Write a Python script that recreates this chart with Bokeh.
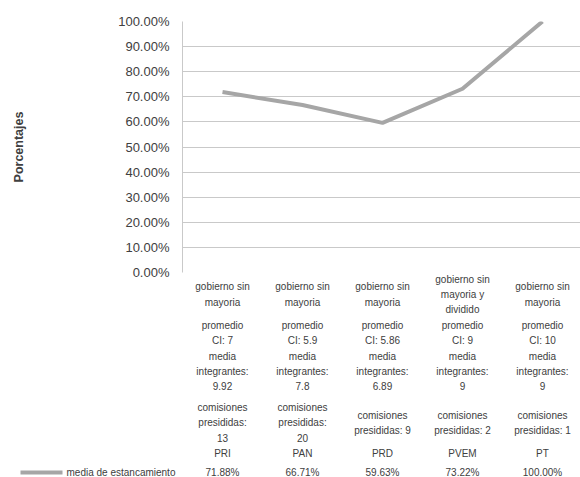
from bokeh.plotting import figure
from bokeh.models import Range1d, FixedTicker, NumeralTickFormatter
from bokeh.layouts import column
from bokeh.core.properties import value
from bokeh.embed import file_html
from bokeh.resources import INLINE

# ---- data -------------------------------------------------------------
partidos = ["PRI", "PAN", "PRD", "PVEM", "PT"]
situacion = [
    "gobierno sin\nmayoria",
    "gobierno sin\nmayoria",
    "gobierno sin\nmayoria",
    "gobierno sin\nmayoria y\ndividido",
    "gobierno sin\nmayoria",
]
promedio_ci = [7, 5.9, 5.86, 9, 10]
media_integrantes = [9.92, 7.8, 6.89, 9, 9]
comisiones_presididas = [13, 20, 9, 2, 1]
media_estancamiento = [71.88, 66.71, 59.63, 73.22, 100.00]  # percent
y_ticks = [i / 10 for i in range(11)]

serie_nombre = "media de estancamiento"
eje_y_titulo = "Porcentajes"

# ---- styles -----------------------------------------------------------
FONT_NAME = "Liberation Sans"
FONT = value(FONT_NAME)
TEXT_COLOR = "#404040"
LINE_COLOR = "#a6a6a6"
GRID_COLOR = "#c9c9c9"

idx = list(range(len(partidos)))

# ---- line chart -------------------------------------------------------
p = figure(
    width=580, height=280,
    x_range=Range1d(-0.5, 4.475), y_range=Range1d(0, 1),
    output_backend="svg", toolbar_location=None,
    min_border_left=182, min_border_right=0,
    min_border_top=21, min_border_bottom=8,
    frame_align=False,
)
p.background_fill_color = "white"
p.border_fill_color = "white"
p.outline_line_color = None
p.xaxis.visible = False
p.xgrid.visible = False

p.yaxis.ticker = FixedTicker(ticks=y_ticks)
p.yaxis.formatter = NumeralTickFormatter(format="0.00%")
p.yaxis.major_tick_in = 0
p.yaxis.major_tick_out = 0
p.yaxis.minor_tick_line_color = None
p.yaxis.axis_line_color = GRID_COLOR
p.yaxis.major_label_standoff = 13
p.yaxis.major_label_text_font = FONT_NAME
p.yaxis.major_label_text_font_size = "13px"
p.yaxis.major_label_text_color = TEXT_COLOR
p.yaxis.axis_label = eje_y_titulo
p.yaxis.axis_label_text_font = FONT_NAME
p.yaxis.axis_label_text_font_size = "12.5px"
p.yaxis.axis_label_text_font_style = "bold"
p.yaxis.axis_label_text_color = TEXT_COLOR
p.yaxis.axis_label_standoff = 89

p.ygrid.ticker = FixedTicker(ticks=y_ticks)
p.ygrid.grid_line_color = GRID_COLOR
p.ygrid.grid_line_width = 1

p.line(idx, [v / 100 for v in media_estancamiento],
       line_width=4, line_color=LINE_COLOR, line_join="round")

# ---- data table below the chart (y = pixel row from the table top) -----
# transparent, and pulled up a few pixels so the 0% tick label keeps its room
t = figure(
    width=580, height=204,
    x_range=Range1d(-2.775, 4.475), y_range=Range1d(204, 0),
    output_backend="svg", toolbar_location=None, min_border=0,
    frame_align=False, margin=(-7, 0, 0, 0),
)
t.axis.visible = False
t.grid.visible = False
t.outline_line_color = None
t.background_fill_alpha = 0
t.border_fill_alpha = 0


def fmt_comisiones(n):
    return f"comisiones\npresididas:\n{n}" if n >= 10 else f"comisiones\npresididas: {n}"


filas = [
    (21, situacion),
    (59.5, [f"promedio\nCI: {v}" for v in promedio_ci]),
    (98, [f"media\nintegrantes:\n{v}" for v in media_integrantes]),
    (149.5, [fmt_comisiones(v) for v in comisiones_presididas]),
    (180, partidos),
    (199, [f"{v:.2f}%" for v in media_estancamiento]),
]
for fila_y, textos in filas:
    t.text(x=idx, y=[fila_y] * len(idx), text=textos,
           text_align="center", text_baseline="middle",
           text_font=FONT, text_font_size="10px", text_color=TEXT_COLOR,
           text_line_height=1.4)

# legend key for the series row
t.line([-2.525, -2.0], [199, 199], line_width=4, line_color=LINE_COLOR)
t.text(x=[-1.95], y=[199], text=[serie_nombre],
       text_align="left", text_baseline="middle",
       text_font=FONT, text_font_size="10px", text_color=TEXT_COLOR)

layout = column(p, t, spacing=0)
open("out.html", "w").write(file_html(layout, INLINE))
